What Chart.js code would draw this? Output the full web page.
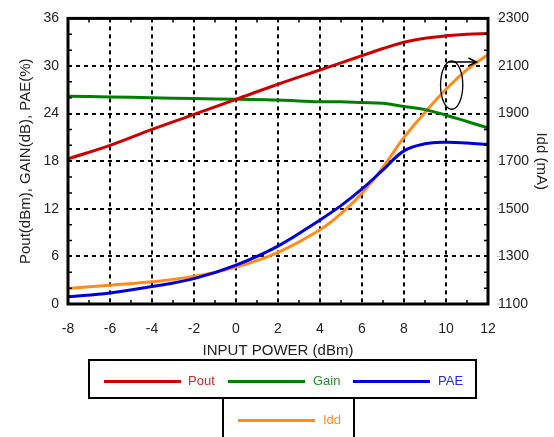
<!DOCTYPE html>
<html>
<head>
<meta charset="utf-8">
<script src="https://cdn.jsdelivr.net/npm/chart.js@4.4.1/dist/chart.umd.min.js"></script>
<style>
body{margin:0;background:#fff;font-family:"Liberation Sans",Arial,sans-serif;overflow:hidden;width:554px;height:437px;position:relative;}
#wrap{position:absolute;left:0;top:0;width:554px;height:360px;}
.box{position:absolute;border:2px solid #000;box-sizing:border-box;background:#fff;}
.sw{position:absolute;height:3px;}
.lb{position:absolute;font-size:13px;line-height:14px;}
</style>
</head>
<body>
<div id="wrap"><canvas id="chart"></canvas></div>

<div class="box" style="left:88px;top:359px;width:389px;height:40px;"></div>
<div class="box" style="left:222px;top:397px;width:133px;height:60px;"></div>
<div id="legend"></div>

<script>
// input power (dBm)
var inputPower = [-8, -6, -4, -2, 0, 2, 4, 5, 6, 7, 8, 9, 10, 11, 12];
var pout = [18.3, 20.0, 22.0, 23.9, 25.8, 27.7, 29.5, 30.4, 31.3, 32.2, 33.0, 33.5, 33.8, 34.0, 34.1];
var gain = [26.2, 26.1, 26.0, 25.9, 25.8, 25.7, 25.5, 25.5, 25.4, 25.3, 24.9, 24.5, 23.8, 23.0, 22.2];
var pae  = [0.9, 1.4, 2.2, 3.2, 4.9, 7.3, 10.6, 12.4, 14.5, 16.9, 19.3, 20.2, 20.4, 20.3, 20.1];
var idd  = [1165, 1179, 1193, 1216, 1255, 1317, 1412, 1480, 1565, 1675, 1800, 1905, 2002, 2085, 2148];

var seriesNames = ['Pout', 'Gain', 'PAE', 'Idd'];
var seriesColors = ['#cc0000', '#008000', '#0000dd', '#ff8c1a'];
var labelColors = ['#cc2a2a', '#2a8a2a', '#2a2ae0', '#ff8c1a'];

function pts(arr){
    return inputPower.map(function(x, i){ return {x: x, y: arr[i]}; });
}

// legend (two boxes like the original)
var legendPos = [[104, 381, 188], [228, 381, 313], [353, 381, 438], [238, 420, 323]];
var html = '';
for (var i = 0; i < seriesNames.length; i++){
    var p = legendPos[i];
    html += '<div class="sw" style="left:'+p[0]+'px;top:'+(p[1]-1)+'px;width:77px;background:'+seriesColors[i]+'"></div>';
    html += '<div class="lb" style="left:'+p[2]+'px;top:'+(p[1]-7)+'px;color:'+labelColors[i]+'">'+seriesNames[i]+'</div>';
}
document.getElementById('legend').innerHTML = html;

// frame, minor ticks and the ellipse/arrow note
var framePlugin = {
    id: 'frame',
    afterDatasetsDraw: function(chart){
        var ctx = chart.ctx, a = chart.chartArea, sx = chart.scales.x, sy = chart.scales.y, sy1 = chart.scales.y1;
        ctx.save();
        ctx.strokeStyle = '#000';
        ctx.lineWidth = 1.5;
        ctx.beginPath();
        for (var v = -7; v < 12; v += 2){
            var px = sx.getPixelForValue(v);
            ctx.moveTo(px, a.bottom); ctx.lineTo(px, a.bottom - 4);
            ctx.moveTo(px, a.top); ctx.lineTo(px, a.top + 4);
        }
        for (var w = 2; w < 36; w += 2){
            if (w % 6 == 0) continue;
            var py = sy.getPixelForValue(w);
            ctx.moveTo(a.left, py); ctx.lineTo(a.left + 4, py);
            ctx.moveTo(a.right, py); ctx.lineTo(a.right - 4, py);
        }
        ctx.stroke();
        // outside ticks on right axis (light)
        ctx.strokeStyle = '#bbb';
        ctx.lineWidth = 1;
        ctx.beginPath();
        for (var m = 1100; m <= 2300; m += 200){
            var qy = sy1.getPixelForValue(m);
            ctx.moveTo(a.right + 9, qy); ctx.lineTo(a.right + 12, qy);
        }
        ctx.stroke();

        ctx.strokeStyle = '#000';
        ctx.lineWidth = 3;
        ctx.strokeRect(a.left, a.top, a.right - a.left, a.bottom - a.top);

        // ellipse around Idd with arrow to right axis
        var cx = sx.getPixelForValue(10.27), cy = sy.getPixelForValue(27.6);
        var rx = sx.getPixelForValue(10.8) - cx, ry = cy - sy.getPixelForValue(30.65);
        ctx.lineWidth = 1.3;
        ctx.beginPath();
        ctx.ellipse(cx, cy, rx, ry, 0, 0, Math.PI * 2);
        ctx.stroke();
        var ay = sy.getPixelForValue(30.5);
        var ax0 = sx.getPixelForValue(10.1), ax1 = sx.getPixelForValue(11.45);
        ctx.lineWidth = 1.5;
        ctx.beginPath();
        ctx.moveTo(ax0, ay); ctx.lineTo(ax1, ay);
        ctx.moveTo(ax1 - 8, ay - 4); ctx.lineTo(ax1, ay); ctx.lineTo(ax1 - 8, ay + 4);
        ctx.stroke();
        ctx.restore();
    }
};

var tickFont = {family: '"Liberation Sans", Arial, sans-serif', size: 14};
var titleFont = {family: '"Liberation Sans", Arial, sans-serif', size: 15};

function ds(label, arr, color, axis){
    return {
        label: label,
        data: pts(arr),
        borderColor: color,
        backgroundColor: color,
        borderWidth: 3,
        pointRadius: 0,
        tension: 0.4,
        yAxisID: axis
    };
}

new Chart(document.getElementById('chart'), {
    type: 'line',
    data: {
        datasets: [
            ds('Pout', pout, seriesColors[0], 'y'),
            ds('Gain', gain, seriesColors[1], 'y'),
            ds('PAE', pae, seriesColors[2], 'y'),
            ds('Idd', idd, seriesColors[3], 'y1')
        ]
    },
    options: {
        responsive: true,
        maintainAspectRatio: false,
        animation: false,
        layout: {padding: {top: 15, left: 0, right: 0, bottom: 0}},
        plugins: {legend: {display: false}, tooltip: {enabled: false}},
        scales: {
            x: {
                type: 'linear',
                min: -8, max: 12,
                ticks: {stepSize: 2, color: '#222', font: tickFont, padding: 17, maxRotation: 0},
                grid: {color: '#000', lineWidth: 2, drawTicks: false},
                border: {display: false, dash: [4, 4]},
                title: {display: true, text: 'INPUT POWER (dBm)', color: '#222', font: titleFont, padding: 0},
                afterFit: function(s){ s.height = 56; }
            },
            y: {
                position: 'left',
                min: 0, max: 36,
                ticks: {stepSize: 6, color: '#222', font: tickFont, padding: 9},
                grid: {color: '#000', lineWidth: 2, drawTicks: false},
                border: {display: false, dash: [4, 4]},
                title: {display: true, text: 'Pout(dBm), GAIN(dB), PAE(%)', color: '#222', font: titleFont, padding: 17},
                afterFit: function(s){ s.width = 68; }
            },
            y1: {
                position: 'right',
                min: 1100, max: 2300,
                ticks: {stepSize: 200, color: '#222', font: tickFont, padding: 10,
                    callback: function(v){ return String(v); }},
                grid: {display: false, drawTicks: false},
                border: {display: false},
                title: {display: true, text: 'Idd (mA)', color: '#222', font: titleFont, padding: 4},
                afterFit: function(s){ s.width = 66; }
            }
        }
    },
    plugins: [framePlugin]
});
</script>
</body>
</html>
